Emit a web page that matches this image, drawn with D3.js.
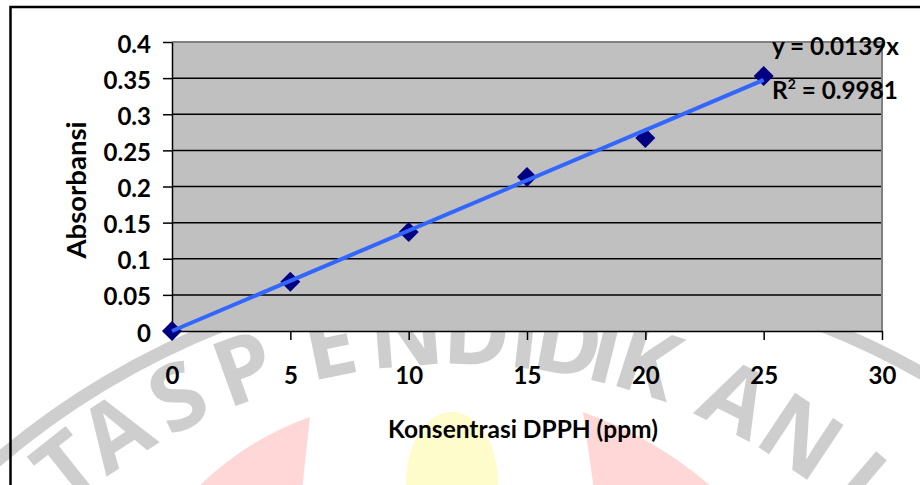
<!DOCTYPE html>
<html>
<head>
<meta charset="utf-8">
<script src="https://cdn.jsdelivr.net/npm/d3@7"></script>
<style>
  html, body { margin: 0; padding: 0; background: #ffffff; }
  svg { display: block; }
  text { font-family: Lato, "Open Sans", sans-serif; font-weight: 700; fill: #000; }
</style>
</head>
<body>
<svg id="chart" width="920" height="485"></svg>
<script>
// ---- data ----
const concentrations = [0, 5, 10, 15, 20, 25];
const absorbance = [0, 0.068, 0.137, 0.213, 0.267, 0.353];
const xTickValues = [0, 5, 10, 15, 20, 25, 30];
const yTickValues = [0, 0.05, 0.1, 0.15, 0.2, 0.25, 0.3, 0.35, 0.4];
const yTickLabels = ["0", "0.05", "0.1", "0.15", "0.2", "0.25", "0.3", "0.35", "0.4"];
const trendSlope = 0.0139;
const trendRange = [0, 25];
const equationText = "y = 0.0139x";
const rSquaredText = "0.9981";
const xTitle = "Konsentrasi DPPH (ppm)";
const yTitle = "Absorbansi";

// watermark (background logo) letters and their angles on the arc
const wmLetters = ["T", "A", "S", "P", "E", "N", "D", "I", "D", "I", "K", "A", "N", "I"];
const wmAngles = [-38.5, -33, -26.4, -19.8, -11.6, -4.5, 2, 6.5, 10.5, 14, 18, 26.8, 33.7, 40.5];

const svg = d3.select("#chart");
const plot = { left: 172, right: 882, top: 42, bottom: 331 };

// ---- faint watermark (background) ----
const wm = svg.append("g").attr("class", "watermark");
const wmColor = "#cecece";
wm.append("circle").attr("cx", 522).attr("cy", 1080).attr("r", 812)
  .attr("fill", "none").attr("stroke", wmColor).attr("stroke-width", 13);
wm.append("ellipse").attr("cx", 452).attr("cy", 482).attr("rx", 46).attr("ry", 70)
  .attr("fill", "#fefccb");
const pL = d3.path();
pL.moveTo(310, 417); pL.lineTo(302, 490); pL.lineTo(195, 490);
pL.quadraticCurveTo(245, 440, 310, 417); pL.closePath();
wm.append("path").attr("d", pL.toString()).attr("fill", "#ffd7d7");
const pR = d3.path();
pR.moveTo(583, 412); pR.quadraticCurveTo(660, 440, 715, 490); pR.lineTo(594, 490); pR.closePath();
wm.append("path").attr("d", pR.toString()).attr("fill", "#ffd7d7");
const wcx = 455, wcy = 955, wr = 624;
wm.selectAll("text.wm").data(wmLetters).join("text")
  .attr("class", "wm")
  .attr("text-anchor", "middle").attr("dy", "0.36em")
  .attr("transform", (d, i) => {
    const a = wmAngles[i] * Math.PI / 180;
    return `translate(${wcx + wr * Math.sin(a)},${wcy - wr * Math.cos(a)}) rotate(${wmAngles[i]})`;
  })
  .style("font-family", "'Open Sans', Lato, sans-serif")
  .style("font-weight", 700).style("font-size", "92px").style("fill", wmColor)
  .text(d => d);

// ---- outer frame ----
svg.append("rect").attr("x", 10.5).attr("y", 7).attr("width", 930).attr("height", 520)
  .attr("fill", "none").attr("stroke", "#000").attr("stroke-width", 2.5);

// ---- scales ----
const x = d3.scaleLinear().domain([0, 30]).range([plot.left, plot.right]);
const y = d3.scaleLinear().domain([0, 0.4]).range([plot.bottom, plot.top]);

// plot background
svg.append("rect").attr("x", plot.left).attr("y", plot.top)
  .attr("width", plot.right - plot.left).attr("height", plot.bottom - plot.top)
  .attr("fill", "#c0c0c0");

// gridlines
svg.append("g").selectAll("line")
  .data(yTickValues.filter(v => v > 0 && v < 0.4))
  .join("line")
  .attr("x1", plot.left).attr("x2", plot.right)
  .attr("y1", d => y(d)).attr("y2", d => y(d))
  .attr("stroke", "#000").attr("stroke-width", 1.5);

// top & right plot border (gray)
svg.append("path")
  .attr("d", `M${plot.left},${y(0.4)}H${plot.right}V${plot.bottom}`)
  .attr("fill", "none").attr("stroke", "#808080").attr("stroke-width", 2);

// axes
const fontSize = 24;
const yAxis = d3.axisLeft(y).tickValues(yTickValues)
  .tickFormat((d, i) => yTickLabels[i]).tickSizeInner(9).tickSizeOuter(0).tickPadding(12);
const gy = svg.append("g").attr("transform", `translate(${plot.left},0)`).call(yAxis);
gy.select(".domain").attr("stroke", "#000").attr("stroke-width", 1.5);
gy.selectAll(".tick line").attr("stroke", "#000").attr("stroke-width", 1.5);
gy.selectAll(".tick text").style("font-size", fontSize + "px").style("font-family", "Lato")
  .style("font-weight", 700).attr("dy", "0.42em");

const xAxis = d3.axisBottom(x).tickValues(xTickValues)
  .tickFormat(d3.format("d")).tickSizeInner(9).tickSizeOuter(0).tickPadding(27);
const gx = svg.append("g").attr("transform", `translate(0,${plot.bottom})`).call(xAxis);
gx.select(".domain").attr("stroke", "#000").attr("stroke-width", 1.5);
gx.selectAll(".tick line").attr("stroke", "#000").attr("stroke-width", 1.5);
gx.selectAll(".tick text").style("font-size", fontSize + "px").style("font-family", "Lato")
  .style("font-weight", 700);

// axis titles
svg.append("text").attr("x", 523).attr("y", 438).attr("text-anchor", "middle")
  .style("font-size", "24.5px").text(xTitle);
svg.append("text").attr("transform", "translate(86,190) rotate(-90)")
  .attr("text-anchor", "middle").style("font-size", "27.5px").text(yTitle);

// markers
const points = concentrations.map((c, i) => ({ c, a: absorbance[i] }));
svg.append("g").selectAll("path")
  .data(points).join("path")
  .attr("d", d3.symbol(d3.symbolSquare, 200))
  .attr("transform", d => `translate(${x(d.c)},${y(d.a)}) rotate(45)`)
  .attr("fill", "#000080");

// trendline
const trend = trendRange.map(c => ({ c, a: trendSlope * c }));
svg.append("path").datum(trend)
  .attr("d", d3.line().x(d => x(d.c)).y(d => y(d.a)))
  .attr("stroke", "#3366ff").attr("stroke-width", 4).attr("fill", "none");

// equation labels
svg.append("text").attr("x", 772).attr("y", 55).style("font-size", "24.3px").text(equationText);
const r2 = svg.append("text").attr("x", 772).attr("y", 99).style("font-size", "24.3px");
r2.append("tspan").text("R");
r2.append("tspan").attr("dy", -10).style("font-size", "14px").text("2");
r2.append("tspan").attr("dy", 10).text(" = " + rSquaredText);
</script>
</body>
</html>
